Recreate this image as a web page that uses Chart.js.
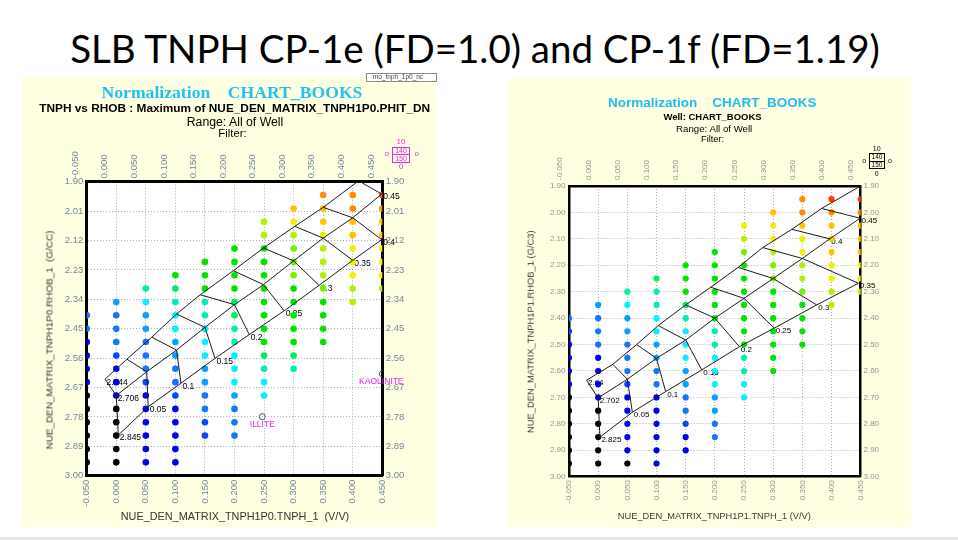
<!DOCTYPE html>
<html><head><meta charset="utf-8">
<script src="https://cdn.jsdelivr.net/npm/chart.js@4.4.1/dist/chart.umd.min.js"></script>
<style>
html,body{margin:0;padding:0;}
body{width:958px;height:540px;position:relative;overflow:hidden;background:#fff;}
.panel{position:absolute;background:#ffffe1;}
canvas{position:absolute;}
.t{position:absolute;white-space:pre;line-height:1;left:0;top:0;}
.box{position:absolute;box-sizing:border-box;}
</style></head><body>
<div class="panel" style="left:22px;top:77px;width:414px;height:450px"></div>
<div class="panel" style="left:508px;top:78px;width:403px;height:449px"></div>
<canvas id="c1" width="414" height="450" style="left:22px;top:77px"></canvas>
<canvas id="c2" width="403" height="449" style="left:508px;top:78px"></canvas>
<div class="box" style="left:0;top:537px;width:958px;height:3px;background:#e4e4e4"></div>
<script>
// ---------------- DATA ----------------
const n = null;
const tnphColumns = [-0.05, 0.00, 0.05, 0.10, 0.15, 0.20, 0.25, 0.30, 0.35, 0.40, 0.45];
const rhobRows = [1.95, 2.00, 2.05, 2.10, 2.15, 2.20, 2.25, 2.30, 2.35, 2.40, 2.45,
                  2.50, 2.55, 2.60, 2.65, 2.70, 2.75, 2.80, 2.85, 2.90, 2.95];
const xTickValues = [-0.05, 0.00, 0.05, 0.10, 0.15, 0.20, 0.25, 0.30, 0.35, 0.40, 0.45];
const yTickValuesCP1e = [1.90, 2.01, 2.12, 2.23, 2.34, 2.45, 2.56, 2.67, 2.78, 2.89, 3.00];
const yTickValuesCP1f = [1.90, 2.00, 2.10, 2.20, 2.30, 2.40, 2.50, 2.60, 2.70, 2.80, 2.90, 3.00];

// colour class of maximum PHIT_DN (0 = lowest/black ... 16 = highest/red)
const phitClassColours = ['#000000','#0000f0','#0a46ff','#1873ff','#0aa0ff','#00c8ff','#00f4ff',
  '#00f0b4','#00ee66','#00e400','#78f000','#b4f000','#f0f000','#ffc400','#ff8c00','#ff6a00','#ff3c00'];

// rows = rhobRows, columns = tnphColumns
const phitClassCP1e = [
  [n,n,n,n,n,n,n,n,14,14,15],
  [n,n,n,n,n,n,n,13,13,14,14],
  [n,n,n,n,n,n,11,12,13,13,13],
  [n,n,n,n,n,n,11,11,12,13,13],
  [n,n,n,n,n,9,9,10,11,12,12],
  [n,n,n,n,9,9,9,10,11,12,12],
  [n,n,n,9,9,9,9,10,11,12,12],
  [n,n,7,8,9,9,9,9,10,11,11],
  [n,4,6,7,7,8,9,9,9,11,n],
  [3,3,4,6,7,8,9,9,9,n,n],
  [3,3,4,6,6,7,9,9,9,n,n],
  [1,3,3,4,6,7,9,9,9,n,n],
  [1,2,3,4,6,6,8,8,n,n,n],
  [1,1,3,3,4,6,7,7,n,n,n],
  [1,1,2,3,4,6,6,n,n,n,n],
  [0,1,1,2,3,4,6,n,n,n,n],
  [0,0,1,1,3,3,n,n,n,n,n],
  [0,0,1,1,2,3,n,n,n,n,n],
  [0,0,1,1,2,3,n,n,n,n,n],
  [0,0,1,1,n,n,n,n,n,n,n],
  [0,0,1,1,n,n,n,n,n,n,n]
];
const phitClassCP1f = [
  [n,n,n,n,n,n,n,n,14,16,16],
  [n,n,n,n,n,n,n,13,14,14,14],
  [n,n,n,n,n,n,12,12,13,13,13],
  [n,n,n,n,n,n,11,12,12,13,13],
  [n,n,n,n,n,9,10,11,12,13,13],
  [n,n,n,n,9,9,9,10,11,12,12],
  [n,n,n,8,9,9,9,10,11,12,12],
  [n,n,7,7,9,9,9,9,10,11,11],
  [n,4,6,7,8,9,9,9,9,11,n],
  [3,3,4,6,7,9,9,9,9,n,n],
  [2,3,4,6,6,7,9,9,9,n,n],
  [1,3,3,4,6,7,9,9,9,n,n],
  [1,1,3,4,6,6,7,9,n,n,n],
  [1,1,3,3,4,6,7,9,n,n,n],
  [1,1,2,3,4,6,6,n,n,n,n],
  [0,1,1,1,3,4,6,n,n,n,n],
  [0,0,1,1,3,4,n,n,n,n,n],
  [0,0,1,1,2,3,n,n,n,n,n],
  [0,0,1,1,1,3,n,n,n,n,n],
  [0,0,1,1,1,n,n,n,n,n,n],
  [0,0,0,1,n,n,n,n,n,n,n]
];

// chart lines CP-1e (porosity nodes 0, 0.05 ... 0.45)
const ssTnphCP1e  = [-0.019, 0.018, 0.060, 0.102, 0.142, 0.198, 0.249, 0.302, 0.350, 0.410];
const ssRhobCP1e  = [2.639, 2.564, 2.482, 2.395, 2.323, 2.233, 2.148, 2.067, 1.996, 1.897];
const lsTnphCP1e  = [0.000, 0.0515, 0.102, 0.150, 0.200, 0.249, 0.300, 0.350, 0.400, 0.449];
const lsRhobCP1e  = [2.700, 2.611, 2.530, 2.445, 2.360, 2.285, 2.196, 2.111, 2.035, 1.946];
const dolTnphCP1e = [0.0035, 0.054, 0.1095, 0.167, 0.225, 0.284, 0.343, 0.400, 0.449];
const dolRhobCP1e = [2.848, 2.742, 2.654, 2.561, 2.472, 2.383, 2.288, 2.194, 2.117];
// chart lines CP-1f
const ssTnphCP1f  = [-0.020, 0.025, 0.066, 0.103, 0.150, 0.193, 0.240, 0.282, 0.332, 0.383, 0.452];
const ssRhobCP1f  = [2.635, 2.575, 2.500, 2.428, 2.350, 2.283, 2.208, 2.133, 2.064, 1.985, 1.897];
const lsTnphCP1f  = [0.000, 0.050, 0.100, 0.150, 0.200, 0.250, 0.300, 0.350, 0.397, 0.449];
const lsRhobCP1f  = [2.702, 2.631, 2.552, 2.483, 2.400, 2.325, 2.250, 2.174, 2.100, 2.022];
const dolTnphCP1f = [0.003, 0.0586, 0.1157, 0.1775, 0.242, 0.3017, 0.3746, 0.446];
const dolRhobCP1f = [2.850, 2.756, 2.678, 2.596, 2.508, 2.438, 2.350, 2.268];

const matrixLabelsCP1e = ['2.644', '2.706', '2.845'];
const matrixLabelsCP1f = ['2.64', '2.702', '2.825'];
const porosityLabels = ['0', '0.05', '0.1', '0.15', '0.2', '0.25', '0.3', '0.35', '0.4', '0.45'];

const mineralNames = ['ILLITE', 'KAOLINITE'];
const mineralTnph = [0.247, 0.45];
const mineralRhob = [2.779, 2.619];

// ---------------- BUILD ----------------
function pointsFor(grid) {
  const pts = [], cols = [];
  grid.forEach((row, r) => row.forEach((cls, c) => {
    if (cls !== null) { pts.push({x: tnphColumns[c], y: rhobRows[r]}); cols.push(phitClassColours[cls]); }
  }));
  return {pts, cols};
}
function lineDs(xs, ys) {
  return {data: xs.map((x, i) => ({x, y: ys[i]})), showLine: true, pointRadius: 0, pointHoverRadius: 0,
          borderColor: '#1c1c1c', borderWidth: 1, fill: false};
}
function chartLines(lines) {
  const out = lines.map(l => lineDs(l[0], l[1]));
  const nmax = Math.max(...lines.map(l => l[0].length));
  for (let i = 0; i < nmax; i++) {
    const xs = [], ys = [];
    lines.forEach(l => { if (i < l[0].length) { xs.push(l[0][i]); ys.push(l[1][i]); } });
    if (xs.length > 1) out.push(lineDs(xs, ys));
  }
  return out;
}

function makePlugin(cfg) {
  return {
    id: 'deco' + cfg.id,
    beforeDraw(chart) {
      const a = chart.chartArea, ctx = chart.ctx;
      ctx.save(); ctx.fillStyle = '#ffffff';
      ctx.fillRect(a.left, a.top, a.right - a.left, a.bottom - a.top); ctx.restore();
    },
    beforeDatasetsDraw(chart) {
      const ctx = chart.ctx, xs = chart.scales.x, ys = chart.scales.y;
      const [ss, ls, dol] = cfg.lines;
      ctx.save();
      ctx.font = cfg.labelSize + 'px "Liberation Sans", Arial, sans-serif';
      ctx.fillStyle = '#000'; ctx.textAlign = 'left'; ctx.textBaseline = 'middle';
      const put = (t, x, y) => ctx.fillText(t, xs.getPixelForValue(x) + 1.5, ys.getPixelForValue(y) + 3);
      [ss, ls, dol].forEach((l, k) => put(cfg.matrixLabels[k], l[0][0], l[1][0]));
      for (let i = 1; i < porosityLabels.length; i++) {
        const l = i < dol[0].length ? dol : ls;
        put(porosityLabels[i], l[0][i], l[1][i]);
      }
      if (cfg.minerals) {
        ctx.fillStyle = '#f020f0'; ctx.textAlign = 'center';
        ctx.font = '8.5px "Liberation Sans", Arial, sans-serif';
        mineralNames.forEach((m, i) => ctx.fillText(m, xs.getPixelForValue(mineralTnph[i]) - (i ? 1 : 0),
                                                     ys.getPixelForValue(mineralRhob[i]) + 8));
      }
      ctx.restore();
    }
  };
}

function build(cfg) {
  const p = pointsFor(cfg.grid);
  const datasets = chartLines(cfg.lines);
  if (cfg.minerals) {
    datasets.push({data: mineralTnph.map((x, i) => ({x, y: mineralRhob[i]})), pointRadius: 3,
      pointBackgroundColor: 'rgba(255,255,255,0)', pointBorderColor: '#555', pointBorderWidth: 1, showLine: false});
  }
  datasets.push({data: p.pts, pointRadius: cfg.pointR, pointBackgroundColor: p.cols, pointBorderWidth: 0,
                 pointHoverRadius: cfg.pointR, showLine: false});
  const font = {family: '"Liberation Sans", Arial, sans-serif', size: cfg.tickSize};
  const noGrid = {display: false, drawTicks: false};
  const brd = {display: true, color: '#000', width: cfg.borderW};
  const gridOn = {display: true, drawTicks: false, color: cfg.gridColor, lineWidth: 1};
  const xTicks = s => { s.ticks = xTickValues.map(v => ({value: v})); };
  const yTicks = s => { s.ticks = cfg.yTicks.map(v => ({value: v})); };
  const xt = pad => ({autoSkip: false, minRotation: 90, maxRotation: 90, color: cfg.tickColor, font, padding: pad,
                      callback: v => v.toFixed(3)});
  const yt = pad => ({autoSkip: false, color: cfg.tickColor, font, padding: pad, callback: v => v.toFixed(2)});
  new Chart(document.getElementById(cfg.canvas), {
    type: 'scatter',
    data: {datasets},
    plugins: [makePlugin(cfg)],
    options: {
      responsive: false, animation: false, events: [],
      layout: {padding: 0},
      plugins: {legend: {display: false}, tooltip: {enabled: false}, title: {display: false}},
      scales: {
        x: {type: 'linear', position: 'bottom', min: -0.05, max: 0.45, afterBuildTicks: xTicks,
            ticks: xt(cfg.padB), grid: gridOn, border: Object.assign({dash: [1, 2]}, brd),
            afterFit: s => { s.height = cfg.bottomH; }},
        x2: {type: 'linear', position: 'top', min: -0.05, max: 0.45, afterBuildTicks: xTicks,
            ticks: xt(cfg.padT), grid: noGrid, border: brd, afterFit: s => { s.height = cfg.topH; }},
        y: {type: 'linear', position: 'left', reverse: true, min: 1.90, max: 3.00, afterBuildTicks: yTicks,
            ticks: yt(cfg.padL), grid: gridOn, border: Object.assign({dash: [1, 2]}, brd),
            afterFit: s => { s.width = cfg.leftW; }},
        y2: {type: 'linear', position: 'right', reverse: true, min: 1.90, max: 3.00, afterBuildTicks: yTicks,
            ticks: yt(cfg.padR), grid: noGrid, border: brd, afterFit: s => { s.width = cfg.rightW; }}
      }
    }
  });
}

build({id: 1, canvas: 'c1', grid: phitClassCP1e, yTicks: yTickValuesCP1e,
  lines: [[ssTnphCP1e, ssRhobCP1e], [lsTnphCP1e, lsRhobCP1e], [dolTnphCP1e, dolRhobCP1e]],
  matrixLabels: matrixLabelsCP1e, minerals: true,
  leftW: 64.7, topH: 104.7, rightW: 53.7, bottomH: 51.3, borderW: 3, tickSize: 9.5, tickColor: '#7585a5',
  gridColor: '#a8b0c0', padL: 3.5, padR: 3.5, padT: 3.5, padB: 4, pointR: 3.3, labelSize: 8.5});
build({id: 2, canvas: 'c2', grid: phitClassCP1f, yTicks: yTickValuesCP1f,
  lines: [[ssTnphCP1f, ssRhobCP1f], [lsTnphCP1f, lsRhobCP1f], [dolTnphCP1f, dolRhobCP1f]],
  matrixLabels: matrixLabelsCP1f, minerals: false,
  leftW: 61, topH: 108, rightW: 50.3, bottomH: 50.3, borderW: 2.5, tickSize: 8, tickColor: '#959595',
  gridColor: '#b0b0b0', padL: 3.5, padR: 2.8, padT: 6, padB: 3.5, pointR: 3.1, labelSize: 8});

// ---------------- TEXT ----------------
const SANS = '"Liberation Sans", Arial, sans-serif';
function txt(o) {
  const d = document.createElement('div');
  d.className = 't';
  d.textContent = o.t;
  d.style.fontFamily = o.f || SANS;
  d.style.fontWeight = o.b ? '700' : '400';
  d.style.color = o.c || '#000';
  if (o.w) {
    d.style.fontSize = '100px';
    document.body.appendChild(d);
    const nat = d.getBoundingClientRect().width;
    d.style.fontSize = (100 * o.w / nat) + 'px';
  } else {
    d.style.fontSize = o.s + 'px';
    document.body.appendChild(d);
  }
  const r = d.getBoundingClientRect();
  d.style.left = (o.x - r.width / 2) + 'px';
  d.style.top = (o.y - r.height / 2) + 'px';
  if (o.r) d.style.transform = 'rotate(' + o.r + 'deg)';
}
function rect(l, t, w, h, css) {
  const d = document.createElement('div');
  d.className = 'box';
  d.style.cssText += `left:${l}px;top:${t}px;width:${w}px;height:${h}px;${css}`;
  document.body.appendChild(d);
}
txt({t: 'SLB TNPH CP-1e (FD=1.0) and CP-1f (FD=1.19)', x: 475, y: 48, w: 810, f: 'Lato, "Open Sans", sans-serif'});

// panel 1
rect(366, 73, 71, 9, 'background:#fff;border:1px solid #8a8a8a;overflow:hidden;');
txt({t: 'mo_tnph_1p0_nc', x: 398, y: 77.5, s: 6.5, c: '#444'});
txt({t: 'Normalization    CHART_BOOKS', x: 232, y: 92.5, w: 261, b: true, c: '#22c2f2', f: '"Liberation Serif", "Times New Roman", serif'});
txt({t: 'TNPH vs RHOB : Maximum of NUE_DEN_MATRIX_TNPH1P0.PHIT_DN', x: 234.7, y: 109, w: 391, b: true});
txt({t: 'Range: All of Well', x: 235, y: 122, w: 96.7});
txt({t: 'Filter:', x: 232.5, y: 134, w: 28.3});
txt({t: 'NUE_DEN_MATRIX_TNPH1P0.RHOB_1  (G/CC)', x: 49, y: 340, w: 219, r: -90, c: '#333'});
txt({t: 'NUE_DEN_MATRIX_TNPH1P0.TNPH_1  (V/V)', x: 235, y: 516.7, w: 228.6, c: '#333'});
// legend key 1
const MG = '#f020f0';
txt({t: '10', x: 401, y: 142.3, s: 8, c: MG});
rect(392, 146.7, 18, 16, 'border:1px solid ' + MG + ';');
rect(392, 154.3, 18, 1, 'background:' + MG + ';');
txt({t: '140', x: 401, y: 150.7, s: 7, c: MG});
txt({t: '150', x: 401, y: 158.5, s: 7, c: MG});
txt({t: '0', x: 401, y: 167.3, s: 8, c: MG});
txt({t: 'o', x: 386.7, y: 154.3, s: 8, c: MG});
txt({t: 'o', x: 416.7, y: 154.3, s: 8, c: MG});

// panel 2
txt({t: 'Normalization    CHART_BOOKS', x: 712.3, y: 102.3, w: 208.7, b: true, c: '#22bcf2'});
txt({t: 'Well: CHART_BOOKS', x: 712.5, y: 116.7, w: 98.3, b: true});
txt({t: 'Range: All of Well', x: 714.2, y: 128.7, w: 76.3});
txt({t: 'Filter:', x: 712.5, y: 140, w: 23});
txt({t: 'NUE_DEN_MATRIX_TNPH1P1.RHOB_1 (G/C3)', x: 531, y: 331.5, w: 203, r: -90, c: '#3a3a3a'});
txt({t: 'NUE_DEN_MATRIX_TNPH1P1.TNPH_1 (V/V)', x: 714.3, y: 516.7, w: 193.3, c: '#3a3a3a'});
txt({t: '10', x: 876.7, y: 148.3, s: 7});
rect(869, 152.7, 16, 16.6, 'border:1px solid #000;');
rect(869, 160.6, 16, 1, 'background:#000;');
txt({t: '140', x: 877, y: 156.8, s: 6.5});
txt({t: '150', x: 877, y: 165.2, s: 6.5});
txt({t: '0', x: 876.7, y: 173.3, s: 7});
txt({t: 'o', x: 864.3, y: 160, s: 7});
txt({t: 'o', x: 890, y: 160, s: 7});
</script>
</body></html>
